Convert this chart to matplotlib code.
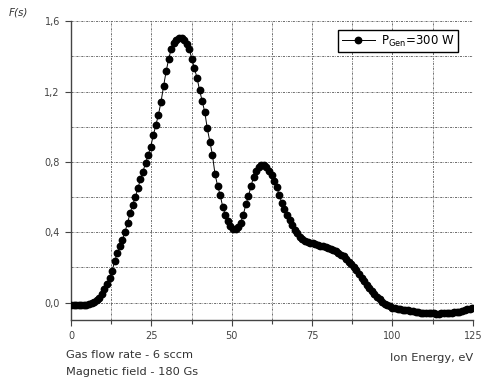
import matplotlib
matplotlib.use("Agg")
import matplotlib.pyplot as plt
from matplotlib.ticker import MultipleLocator, FuncFormatter

plt.rcParams['font.family'] = ['DejaVu Sans']

energy = [
    0.0, 0.8, 1.6, 2.4, 3.2, 4.0, 4.8, 5.6, 6.4, 7.2, 8.0, 8.8, 9.6, 10.4, 11.2, 12.0,
    12.8, 13.6, 14.4, 15.2, 16.0, 16.8, 17.6, 18.4, 19.2, 20.0, 20.8, 21.6, 22.4, 23.2,
    24.0, 24.8, 25.6, 26.4, 27.2, 28.0, 28.8, 29.6, 30.4, 31.2, 32.0, 32.8, 33.6, 34.4,
    35.2, 36.0, 36.8, 37.6, 38.4, 39.2, 40.0, 40.8, 41.6, 42.4, 43.2, 44.0, 44.8, 45.6,
    46.4, 47.2, 48.0, 48.8, 49.6, 50.4, 51.2, 52.0, 52.8, 53.6, 54.4, 55.2, 56.0, 56.8,
    57.6, 58.4, 59.2, 60.0, 60.8, 61.6, 62.4, 63.2, 64.0, 64.8, 65.6, 66.4, 67.2, 68.0,
    68.8, 69.6, 70.4, 71.2, 72.0, 72.8, 73.6, 74.4, 75.2, 76.0, 76.8, 77.6, 78.4, 79.2,
    80.0, 80.8, 81.6, 82.4, 83.2, 84.0, 84.8, 85.6, 86.4, 87.2, 88.0, 88.8, 89.6, 90.4,
    91.2, 92.0, 92.8, 93.6, 94.4, 95.2, 96.0, 96.8, 97.6, 98.4, 99.2, 100.0, 100.8, 101.6,
    102.4, 103.2, 104.0, 104.8, 105.6, 106.4, 107.2, 108.0, 108.8, 109.6, 110.4, 111.2,
    112.0, 112.8, 113.6, 114.4, 115.2, 116.0, 116.8, 117.6, 118.4, 119.2, 120.0, 120.8,
    121.6, 122.4, 123.2, 124.0, 124.8,
]
f_values = [
    -0.012, -0.012, -0.012, -0.012, -0.012, -0.012, -0.011, -0.009, -0.005, 0.001, 0.012,
    0.028, 0.050, 0.075, 0.104, 0.138, 0.180, 0.235, 0.282, 0.320, 0.358, 0.400, 0.455,
    0.508, 0.557, 0.598, 0.650, 0.700, 0.745, 0.792, 0.838, 0.885, 0.950, 1.010, 1.068,
    1.140, 1.230, 1.315, 1.385, 1.443, 1.475, 1.492, 1.502, 1.505, 1.495, 1.472, 1.440,
    1.385, 1.332, 1.278, 1.208, 1.146, 1.085, 0.990, 0.915, 0.840, 0.730, 0.665, 0.612,
    0.545, 0.500, 0.462, 0.436, 0.421, 0.420, 0.430, 0.455, 0.500, 0.558, 0.605, 0.662,
    0.715, 0.750, 0.770, 0.782, 0.784, 0.772, 0.750, 0.725, 0.692, 0.655, 0.610, 0.566,
    0.530, 0.498, 0.467, 0.440, 0.415, 0.393, 0.375, 0.360, 0.352, 0.345, 0.340, 0.336,
    0.331, 0.327, 0.323, 0.320, 0.316, 0.311, 0.305, 0.300, 0.292, 0.283, 0.272, 0.262,
    0.248, 0.233, 0.220, 0.205, 0.185, 0.163, 0.142, 0.122, 0.102, 0.084, 0.065, 0.048,
    0.033, 0.018, 0.004, -0.006, -0.015, -0.022, -0.028, -0.032, -0.035, -0.038, -0.041,
    -0.043, -0.045, -0.048, -0.050, -0.053, -0.055, -0.057, -0.059, -0.060, -0.061,
    -0.062, -0.062, -0.063, -0.063, -0.062, -0.062, -0.061, -0.060, -0.058, -0.056,
    -0.054, -0.051, -0.047, -0.043, -0.039, -0.034, -0.028,
]
x_ticks = [0, 25, 50, 75, 100, 125]
y_ticks = [0.0, 0.4, 0.8, 1.2, 1.6]
series_label = r'P$_{\mathregular{Gen}}$=300 W'

fig = plt.figure(figsize=(4.86, 3.78), dpi=100)
ax = fig.add_axes([0.146, 0.153, 0.827, 0.791])

ax.plot(energy, f_values, color='black', lw=0.7, marker='o', ms=4.6,
        mec='black', mfc='black', label=series_label, zorder=3)

ax.set_xlim(0, 125)
ax.set_ylim(-0.1, 1.6)
ax.set_xticks(x_ticks)
ax.set_yticks(y_ticks)
ax.xaxis.set_minor_locator(MultipleLocator(12.5))
ax.yaxis.set_minor_locator(MultipleLocator(0.2))
ax.yaxis.set_major_formatter(FuncFormatter(lambda v, p: f"{v:.1f}".replace('.', ',')))

ax.grid(True, which='both', color='#555555', lw=0.6, ls=(0, (2.5, 1.3, 0.8, 1.3)))
ax.tick_params(which='major', direction='out', length=4, width=0.8, labelsize=7,
               colors='#444444', pad=4)
ax.tick_params(axis='x', which='minor', direction='out', length=3, width=0.8, colors='#444444')
ax.tick_params(axis='y', which='minor', length=0)
for s in ['top', 'right']:
    ax.spines[s].set_visible(False)
for s in ['left', 'bottom']:
    ax.spines[s].set_color('#444444')
    ax.spines[s].set_linewidth(1.0)

leg = ax.legend(loc='upper right', bbox_to_anchor=(0.977, 0.99), fontsize=8.5,
                frameon=True, fancybox=False, edgecolor='black', framealpha=1,
                handlelength=2.8, borderpad=0.3, handletextpad=0.5)
leg.get_frame().set_linewidth(1.0)

fig.text(0.017, 0.958, 'F(s)', fontsize=7.5, style='italic', color='#333333')
fig.text(0.136, 0.052, 'Gas flow rate - 6 sccm', fontsize=8.2, color='#333333')
fig.text(0.136, 0.008, 'Magnetic field - 180 Gs', fontsize=8.2, color='#333333')
fig.text(0.973, 0.045, 'Ion Energy, eV', fontsize=8.2, color='#333333', ha='right')

fig.savefig('out.png', dpi=100)
